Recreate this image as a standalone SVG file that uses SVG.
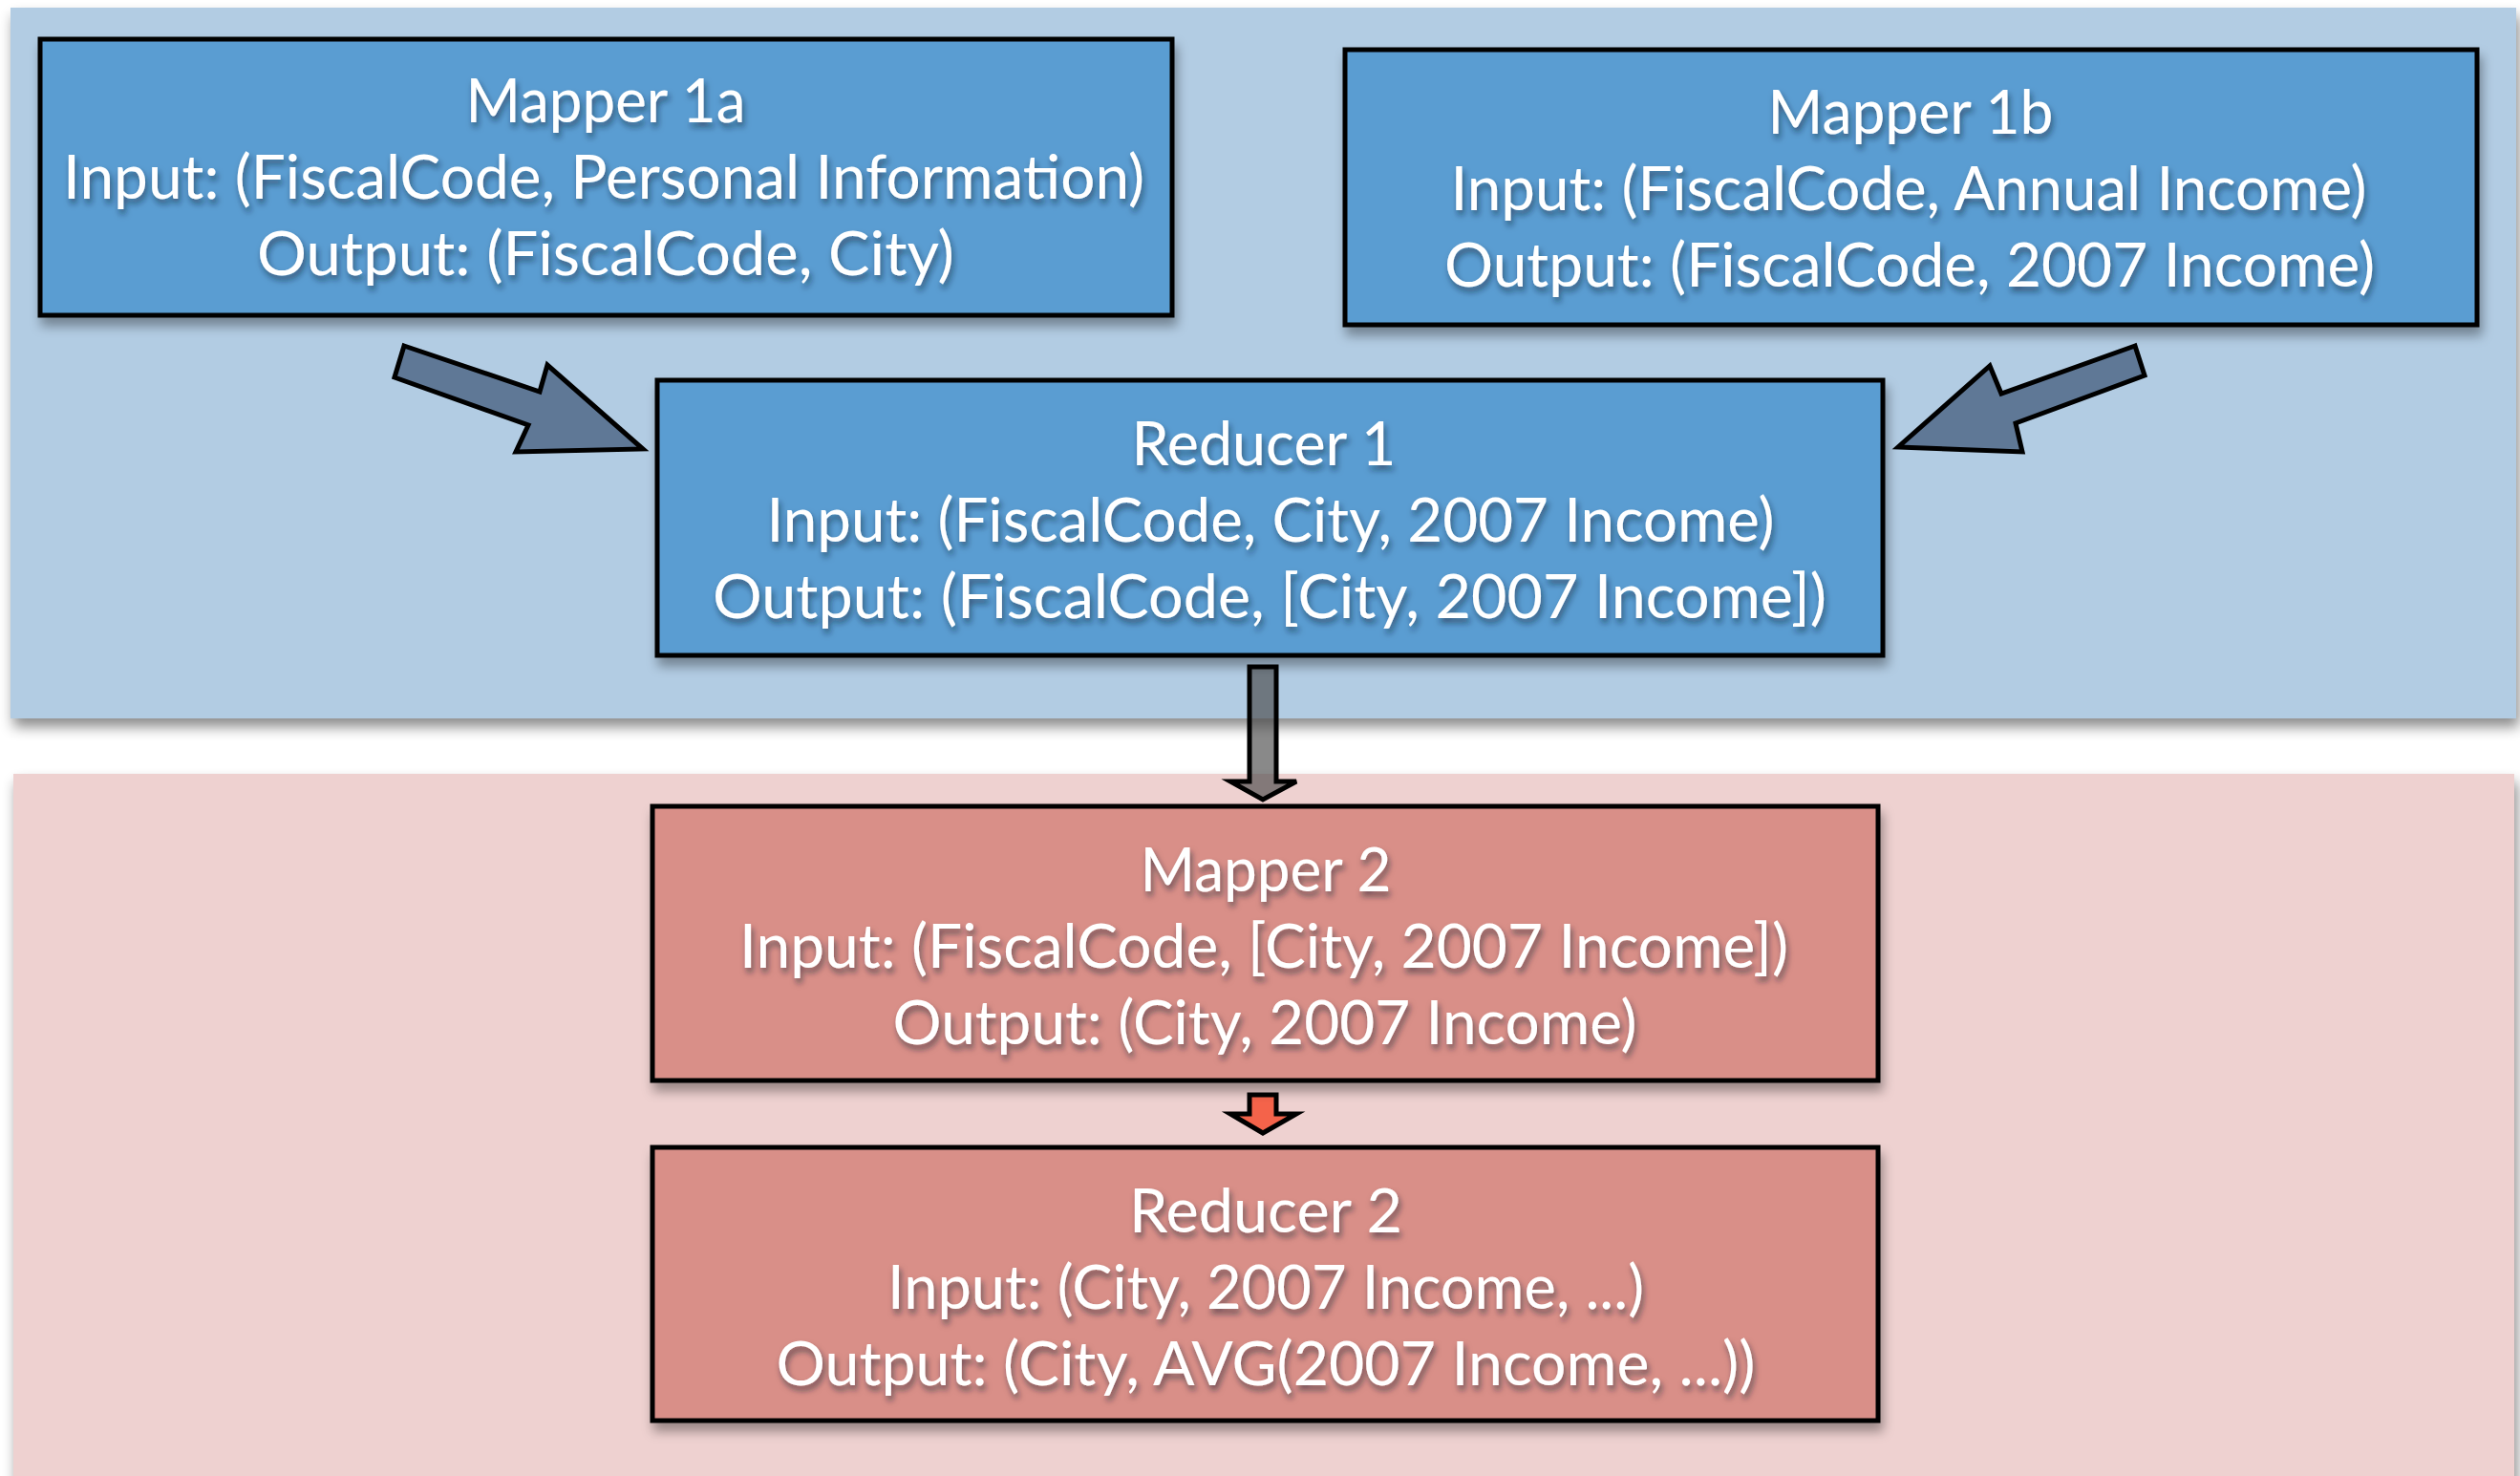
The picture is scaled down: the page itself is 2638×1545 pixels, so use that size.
<svg xmlns="http://www.w3.org/2000/svg" width="2638" height="1545" viewBox="0 0 2638 1545">
<defs>
<filter id="panelShadow" x="-5%" y="-10%" width="110%" height="125%">
<feDropShadow dx="3" dy="9" stdDeviation="7" flood-color="#000" flood-opacity="0.45"/>
</filter>
<filter id="boxShadow" x="-5%" y="-10%" width="110%" height="130%">
<feDropShadow dx="3" dy="9" stdDeviation="6" flood-color="#000" flood-opacity="0.35"/>
</filter>
<filter id="textShadow" x="-5%" y="-30%" width="110%" height="170%">
<feDropShadow dx="2" dy="5" stdDeviation="3" flood-color="#102030" flood-opacity="0.55"/>
</filter>
<style>
.blueBox { fill: #5a9dd2; stroke: #000; stroke-width: 5; }
.pinkBox { fill: #d98f88; stroke: #000; stroke-width: 5; }
.lbl { font-family: Lato, "Open Sans", "Liberation Sans", sans-serif; font-size: 64px; fill: #fff; text-anchor: middle; }
.fat { fill: #5f7896; stroke: #000; stroke-width: 5; stroke-linejoin: miter; }
.gray { fill: #4a4a4a; fill-opacity: 0.65; stroke: #000; stroke-width: 5; }
.red { fill: #f4634a; stroke: #000; stroke-width: 5; }
</style>
</defs>
<rect width="2638" height="1545" fill="#fff"/>
<g id="panels">
<rect id="panel-blue" x="11" y="8" width="2623" height="744" fill="#b2cce3" filter="url(#panelShadow)"/>
<rect id="panel-pink" x="14" y="810" width="2618" height="760" fill="#eed1d0" filter="url(#panelShadow)"/>
</g>
<g id="connectors">
<polygon class="fat" points="423,362 565,410 573,382 673,470 540,473 553,445 413,395"/>
<polygon class="fat" points="2235,362 2095,412 2083,383 1987,468 2117,473 2110,443 2245,393"/>
<polygon class="gray" points="1308,698 1336,698 1336,818 1357,818 1322,837 1288,818 1308,818"/>
<polygon class="red" points="1308,1146 1336,1146 1336,1166 1357,1166 1322,1186 1288,1166 1308,1166"/>
</g>
<g id="mapper1a">
<rect class="blueBox" x="42" y="41" width="1185" height="289" filter="url(#boxShadow)"/>
<g filter="url(#textShadow)">
<text class="lbl" x="634" y="128" textLength="293" lengthAdjust="spacingAndGlyphs">Mapper 1a</text>
<text class="lbl" x="632" y="208" textLength="1132" lengthAdjust="spacingAndGlyphs">Input: (FiscalCode, Personal Information)</text>
<text class="lbl" x="634" y="288" textLength="730" lengthAdjust="spacingAndGlyphs">Output: (FiscalCode, City)</text>
</g>
</g>
<g id="mapper1b">
<rect class="blueBox" x="1408" y="52" width="1185" height="288" filter="url(#boxShadow)"/>
<g filter="url(#textShadow)">
<text class="lbl" x="2000" y="140" textLength="299" lengthAdjust="spacingAndGlyphs">Mapper 1b</text>
<text class="lbl" x="1998" y="220" textLength="959" lengthAdjust="spacingAndGlyphs">Input: (FiscalCode, Annual Income)</text>
<text class="lbl" x="1999" y="300" textLength="974" lengthAdjust="spacingAndGlyphs">Output: (FiscalCode, 2007 Income)</text>
</g>
</g>
<g id="reducer1">
<rect class="blueBox" x="688" y="398" width="1283" height="288" filter="url(#boxShadow)"/>
<g filter="url(#textShadow)">
<text class="lbl" x="1323" y="487" textLength="277" lengthAdjust="spacingAndGlyphs">Reducer 1</text>
<text class="lbl" x="1330" y="567" textLength="1055" lengthAdjust="spacingAndGlyphs">Input: (FiscalCode, City, 2007 Income)</text>
<text class="lbl" x="1329" y="647" textLength="1166" lengthAdjust="spacingAndGlyphs">Output: (FiscalCode, [City, 2007 Income])</text>
</g>
</g>
<g id="mapper2">
<rect class="pinkBox" x="683" y="844" width="1283" height="287" filter="url(#boxShadow)"/>
<g filter="url(#textShadow)">
<text class="lbl" x="1325" y="933" textLength="263" lengthAdjust="spacingAndGlyphs">Mapper 2</text>
<text class="lbl" x="1323" y="1013" textLength="1098" lengthAdjust="spacingAndGlyphs">Input: (FiscalCode, [City, 2007 Income])</text>
<text class="lbl" x="1324" y="1093" textLength="779" lengthAdjust="spacingAndGlyphs">Output: (City, 2007 Income)</text>
</g>
</g>
<g id="reducer2">
<rect class="pinkBox" x="683" y="1201" width="1283" height="286" filter="url(#boxShadow)"/>
<g filter="url(#textShadow)">
<text class="lbl" x="1325" y="1290" textLength="286" lengthAdjust="spacingAndGlyphs">Reducer 2</text>
<text class="lbl" x="1325" y="1370" textLength="792" lengthAdjust="spacingAndGlyphs">Input: (City, 2007 Income, ...)</text>
<text class="lbl" x="1325" y="1450" textLength="1025" lengthAdjust="spacingAndGlyphs">Output: (City, AVG(2007 Income, ...))</text>
</g>
</g>
</svg>
